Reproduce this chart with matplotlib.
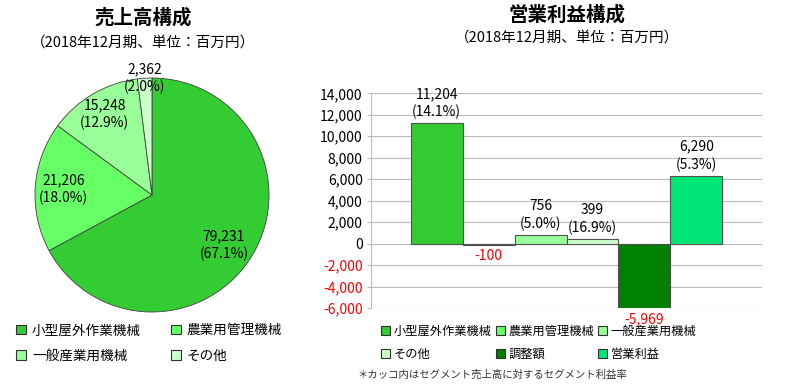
import matplotlib.pyplot as plt
import numpy as np
from matplotlib.patches import Patch

plt.rcParams['font.family'] = ['Noto Sans CJK JP', 'DejaVu Sans']

# sales composition (pie)
seg_names = ['小型屋外作業機械', '農業用管理機械', '一般産業用機械', 'その他']
seg_sales = [79231, 21206, 15248, 2362]
seg_colors = ['#33CC33', '#66FF66', '#99FF99', '#CCFFCC']

# operating profit (bars)
bar_names = ['小型屋外作業機械', '農業用管理機械', '一般産業用機械', 'その他', '調整額', '営業利益']
bar_values = [11204, -100, 756, 399, -5969, 6290]
bar_margin = ['14.1%', None, '5.0%', '16.9%', None, '5.3%']
bar_colors = ['#33CC33', '#66FF66', '#99FF99', '#CCFFCC', '#008000', '#00E676']
yticks = np.arange(-6000, 14001, 2000)

fig = plt.figure(figsize=(7.88, 3.88), dpi=100)

# ---- pie ----
W, H = 788, 388
cx, cy, r = 152, 195, 117
axp = fig.add_axes([(cx - r) / W, (H - cy - r) / H, 2 * r / W, 2 * r / H])
wedges, _ = axp.pie(seg_sales, colors=seg_colors, startangle=90, counterclock=False,
                    radius=1, wedgeprops=dict(edgecolor='#404040', linewidth=0.6))
axp.set_xlim(-1, 1)
axp.set_ylim(-1, 1)
axp.axis('off')

total = sum(seg_sales)
label_r = [0.75, 0.76, 0.80, 1.0]
label_shift = [-4, 0, 0, 0]   # degrees, nudges label off the mid angle
ang = 90.0
for v, lr, sh in zip(seg_sales, label_r, label_shift):
    span = 360.0 * v / total
    mid = np.deg2rad(ang - span / 2 + sh)
    ang -= span
    axp.text(lr * np.cos(mid), lr * np.sin(mid),
             f'{v:,}\n({100 * v / total:.1f}%)', ha='center', va='center',
             fontsize=10, linespacing=1.3, clip_on=False)

fig.text(143 / W, 1 - 18 / H, '売上高構成', ha='center', va='center', fontsize=14, fontweight='bold')
fig.text(143 / W, 1 - 43 / H, '（2018年12月期、単位：百万円）', ha='center', va='center', fontsize=10.5)

order = [0, 2, 1, 3]
ph = [Patch(facecolor=seg_colors[i], edgecolor='#303030', linewidth=0.8) for i in order]
fig.legend(ph, [seg_names[i] for i in order], ncol=2, loc='upper left',
           bbox_to_anchor=(4 / W, 1 - 311 / H), frameon=False, fontsize=9.8,
           handlelength=0.75, handleheight=0.75, handletextpad=0.4,
           columnspacing=2.2, labelspacing=0.85)

# ---- bars ----
axb = fig.add_axes([371 / W, 1 - 308 / H, (762 - 371) / W, (308 - 93.3) / H])
x = np.arange(len(bar_values))
axb.bar(x, bar_values, width=1.0, color=bar_colors, edgecolor='#505050', linewidth=0.8, zorder=3)
axb.set_xlim(-0.5 - 0.76, len(x) - 0.5 + 0.76)
axb.set_ylim(-6000, 14000)
axb.set_yticks(yticks)
axb.set_yticklabels([f'{t:,}' for t in yticks], fontsize=10)
for t, lab in zip(yticks, axb.get_yticklabels()):
    lab.set_color('red' if t < 0 else 'black')
axb.set_xticks([])
axb.grid(axis='y', color='#BBBBBB', linewidth=0.8, zorder=0)
for s in ['top', 'right', 'bottom']:
    axb.spines[s].set_visible(False)
axb.spines['left'].set_color('#BBBBBB')
axb.tick_params(axis='y', length=3, color='#BBBBBB', pad=3)

for xi, v, m in zip(x, bar_values, bar_margin):
    if v >= 0:
        txt = f'{v:,}\n({m})' if m else f'{v:,}'
        axb.text(xi, v + 400, txt, ha='center', va='bottom', fontsize=10, linespacing=1.3)
    else:
        axb.text(xi, v - 400, f'{v:,}', ha='center', va='top', fontsize=10, color='red')

fig.text(567 / W, 1 - 15 / H, '営業利益構成', ha='center', va='center', fontsize=14, fontweight='bold')
fig.text(567 / W, 1 - 38 / H, '（2018年12月期、単位：百万円）', ha='center', va='center', fontsize=10.5)

border = [0, 3, 1, 4, 2, 5]
bh = [Patch(facecolor=bar_colors[i], edgecolor='#303030', linewidth=0.8) for i in border]
fig.legend(bh, [bar_names[i] for i in border], ncol=3, loc='upper left',
           bbox_to_anchor=(370 / W, 1 - 314 / H), frameon=False, fontsize=8.8,
           handlelength=0.75, handleheight=0.75, handletextpad=0.3,
           columnspacing=0.3, labelspacing=0.8)

fig.text(357 / W, 1 - 375 / H, '＊カッコ内はセグメント売上高に対するセグメント利益率',
         ha='left', va='center', fontsize=7.5, color='#333333')

fig.savefig('out.png', dpi=100)
